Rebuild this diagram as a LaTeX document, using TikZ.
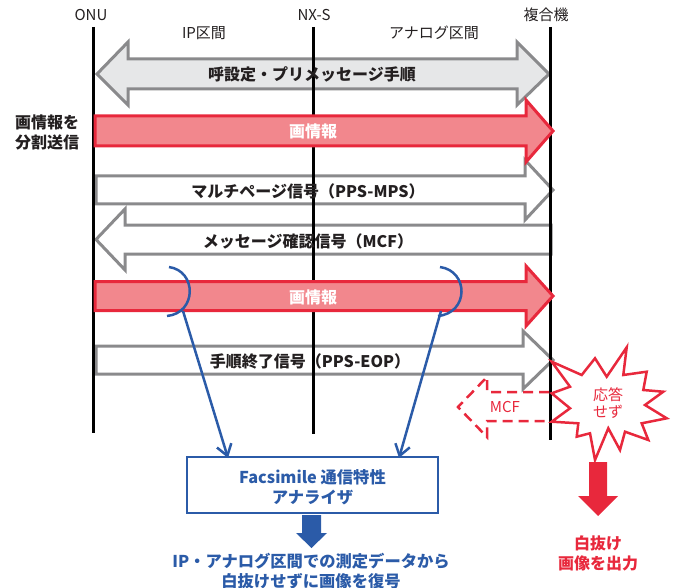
\documentclass[tikz,border=0pt]{standalone}
\usepackage{fontspec}
\setmainfont{Noto Sans CJK JP}
\usetikzlibrary{arrows.meta}
\definecolor{ared}{HTML}{E8283C}
\definecolor{apink}{HTML}{F2878D}
\definecolor{agrey}{HTML}{8A8A8C}
\definecolor{alight}{HTML}{E6E7E8}
\definecolor{ablue}{HTML}{2B5BA8}
\definecolor{aink}{HTML}{231F20}
\begin{document}
\begin{tikzpicture}[x=1pt,y=-1pt,
  greyarrow/.style={draw=agrey, line width=3pt, fill=alight, line join=miter},
  whitearrow/.style={draw=agrey, line width=3pt, fill=white, line join=miter},
  redarrow/.style={draw=ared, line width=3pt, fill=apink, line join=miter},
  lifeline/.style={draw=black, line width=3pt},
  toplbl/.style={font=\fontsize{15}{17}\selectfont, text=aink},
  arrlbl/.style={font=\fontsize{16}{18}\selectfont\bfseries, text=aink},
  redlbl/.style={font=\fontsize{16}{18}\selectfont\bfseries, text=white},
  bluelbl/.style={font=\fontsize{16.3}{20}\selectfont\bfseries, text=ablue, align=center},
  loopline/.style={draw=ablue, line width=2.5pt},
  blueconn/.style={draw=ablue, line width=2.5pt, -{Straight Barb[length=11pt,width=15pt,line width=2.5pt]}},
]
\useasboundingbox (0,0) rectangle (677,588);

% --- grey / white arrows ---
\path[greyarrow] (97,74) -- (128,42) -- (128,59) -- (517,59) -- (517,42) -- (549,74)
   -- (517,105) -- (517,89) -- (128,89) -- (128,105) -- cycle;
\path[whitearrow] (96,176) -- (525,176) -- (525,160) -- (553,190) -- (525,220) -- (525,204) -- (96,204) -- cycle;
\path[whitearrow] (551,225) -- (125,225) -- (125,209) -- (96,239.5) -- (125,270) -- (125,254) -- (551,254) -- cycle;
\path[whitearrow] (96,346) -- (523,346) -- (523,331) -- (553,360) -- (523,389) -- (523,374) -- (96,374) -- cycle;

% --- life lines ---
\coordinate (onuT) at (93,27);   \coordinate (onuB) at (93,433);
\coordinate (nxT) at (313,27);   \coordinate (nxB) at (313,434);
\coordinate (mfT) at (550,27);   \coordinate (mfB) at (550,440);
\draw[lifeline] (onuT) -- (onuB);
\draw[lifeline] (nxT) -- (nxB);
\draw[lifeline] (mfT) -- (mfB);

% --- red arrows ---
\path[redarrow] (95,116) -- (526,116) -- (526,100) -- (553,131) -- (526,162) -- (526,146) -- (95,146) -- cycle;
\path[redarrow] (95,281.5) -- (526,281.5) -- (526,266) -- (553,296) -- (526,326) -- (526,310.5) -- (95,310.5) -- cycle;

% --- top labels ---
\node[toplbl] (onu) at (91,15) {ONU};
\node[toplbl] (nxs) at (314,15) {NX-S};
\node[toplbl] (mfp) at (546,15) {複合機};
\node[toplbl] (ipz) at (204,33) {IP区間};
\node[toplbl] (anz) at (434,33) {アナログ区間};

% --- arrow labels ---
\node[arrlbl] (l1) at (312,74) {呼設定・プリメッセージ手順};
\node[redlbl] (l2) at (313,131) {画情報};
\node[arrlbl] (l3) at (308,191) {マルチページ信号（PPS-MPS）};
\node[arrlbl] (l4) at (308,241) {メッセージ確認信号（MCF）};
\node[redlbl] (l5) at (313,297) {画情報};
\node[arrlbl] (l6) at (310,361) {手順終了信号（PPS-EOP）};
\node[arrlbl, align=center, font=\fontsize{16}{20}\selectfont\bfseries] (side) at (47,132) {画情報を\\分割送信};

% --- blue loops and connectors ---
\draw[loopline] (169,267) .. controls (197,271) and (197,313) .. (167,316);
\draw[loopline] (440,267) .. controls (469,271) and (469,313) .. (438,316);
\coordinate (tailL) at (183,311);
\coordinate (tailR) at (441,311);
\node[draw=ablue, line width=2.5pt, fill=white, minimum width=251pt, minimum height=56pt,
      inner sep=0pt] (ana) at (312.5,485) {};
\node[bluelbl] (anatext) at (312.5,487) {Facsimile 通信特性\\アナライザ};
\coordinate (inL) at (228,458);
\coordinate (inR) at (399,458);
\draw[blueconn] (tailL) -- (inL);
\draw[blueconn] (tailR) -- (inR);

% blue block arrow
\fill[ablue] (302,515) -- (321,515) -- (321,533) -- (327,533) -- (311.5,548) -- (296,533) -- (302,533) -- cycle;
\node[bluelbl] (result) at (311,571) {IP・アナログ区間での測定データから\\白抜けせずに画像を復号};

% --- MCF dashed arrow ---
\draw[ared, line width=2.5pt, dash pattern=on 10pt off 6pt, line join=miter]
  (549,392) -- (487,392) -- (487,377) -- (458,407) -- (487,437) -- (487,421) -- (549,421);
\node[font=\fontsize{15}{17}\selectfont, text=ared] (mcf) at (505,407) {MCF};

% --- starburst ---
\draw[ared, line width=2.5pt, fill=white, line join=miter]
  (551.7,361.7) -- (581.7,375) -- (595,358.3) -- (606.7,376.7) -- (626.7,347.3) -- (623.3,375)
  -- (646.7,371.7) -- (643.3,390) -- (663.3,391.7) -- (645,405) -- (666.7,418.3) -- (641.7,423.3)
  -- (648.3,440) -- (625,431.7) -- (620,450) -- (608.3,428.3) -- (595,460) -- (590,433.3)
  -- (576.7,436.7) -- (578.3,423.3) -- (551.7,421.7) -- (570,408.3) -- (551.7,393.3) -- (570,386.7) -- cycle;
\node[font=\fontsize{15}{17}\selectfont, text=ared, align=center] (noresp) at (608,403.5) {応答\\せず};

% red block arrow
\fill[ared] (589,462) -- (607,462) -- (607,496) -- (618,496) -- (598,516) -- (578,496) -- (589,496) -- cycle;
\node[font=\fontsize{16}{20}\selectfont\bfseries, text=ared, align=center] (white) at (598,553) {白抜け\\画像を出力};
\end{tikzpicture}
\end{document}
